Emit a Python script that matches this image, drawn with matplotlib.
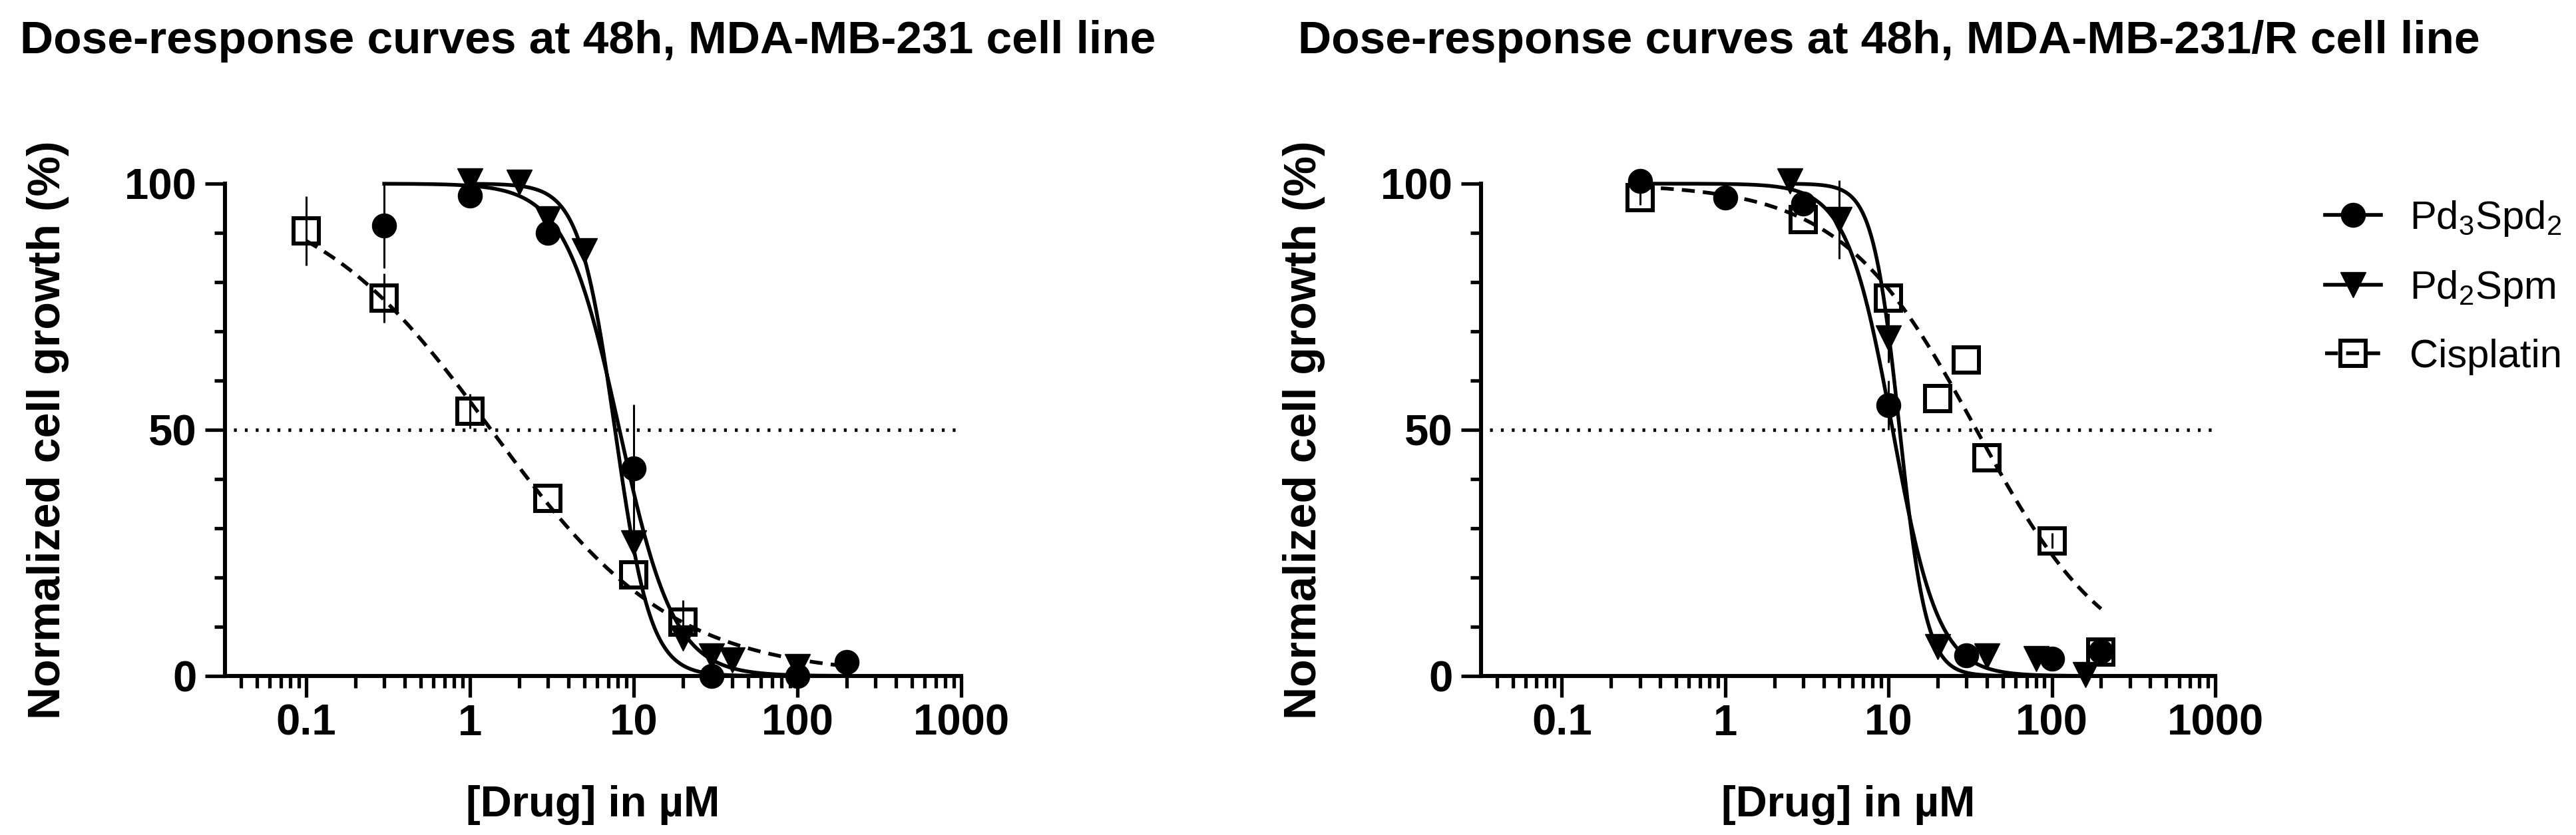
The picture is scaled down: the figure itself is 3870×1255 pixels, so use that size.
import numpy as np
import matplotlib
matplotlib.use('Agg')
import matplotlib.pyplot as plt
import matplotlib.ticker as plticker
from matplotlib.lines import Line2D

plt.rcParams['font.family'] = ['Liberation Sans', 'DejaVu Sans']
plt.rcParams['mathtext.default'] = 'regular'

# ---- MDA-MB-231 (left) ----
wt_pd3_dose = [0.3, 1, 3, 10, 30, 100, 200]
wt_pd3_resp = [91.5, 97.6, 90.0, 42.2, 0.0, 0.0, 2.8]
wt_pd3_err = [8.7, 0, 0, 13, 0, 0, 0]
wt_pd2_dose = [1, 2, 3, 5, 10, 20, 30, 40, 100]
wt_pd2_resp = [100.5, 100.3, 92.9, 86.3, 27.0, 7.7, 4.1, 3.2, 1.9]
wt_pd2_err = [0, 0, 0, 0, 0, 0, 0, 0, 0]
wt_cis_dose = [0.1, 0.3, 1, 3, 10, 20]
wt_cis_resp = [90.4, 76.7, 53.8, 36.1, 20.6, 10.9]
wt_cis_err = [7, 5, 3.5, 0, 0, 4.5]

# ---- MDA-MB-231/R (right) ----
r_pd3_dose = [0.3, 1, 3, 10, 30, 100, 200]
r_pd3_resp = [100.5, 97.2, 95.9, 55.0, 4.2, 3.5, 5.0]
r_pd3_err = [0, 2.5, 0, 5, 0, 0, 0]
r_pd2_dose = [2.5, 5, 10, 20, 40, 80, 160]
r_pd2_resp = [100.5, 92.7, 68.7, 6.0, 4.0, 3.5, 0.3]
r_pd2_err = [0, 8, 5, 0, 0, 0, 0]
r_cis_dose = [0.3, 3, 10, 20, 30, 40, 100, 200]
r_cis_resp = [97.2, 92.7, 76.7, 56.4, 64.2, 44.3, 27.5, 4.8]
r_cis_err = [1.5, 0, 0, 0, 0, 0, 1.5, 0]

# fitted curves (4PL, top 100 / bottom 0): IC50, Hill slope, curve range
wt_pd3_fit = [8.2, 2.6, 0.3, 200]
wt_pd2_fit = [7.7, 4.0, 1, 100]
wt_cis_fit = [1.35, 0.78, 0.1, 200]
r_pd3_fit = [10.6, 3.1, 0.3, 200]
r_pd2_fit = [11.7, 5.3, 2.5, 160]
r_cis_fit = [34.5, 1.05, 0.3, 200]

labels = ['Pd$_3$Spd$_2$', 'Pd$_2$Spm', 'Cisplatin']
titles = ['Dose-response curves at 48h, MDA-MB-231 cell line',
          'Dose-response curves at 48h, MDA-MB-231/R cell line']

DASH = (0, (3.5, 2.2))
styles = [dict(marker='o', ms=26, mfc='k', mec='k', mew=1, ls='-'),
          dict(marker='v', ms=27, mfc='k', mec='k', mew=1, ls='-'),
          dict(marker='s', ms=27, mfc='none', mec='k', mew=4.3, ls=DASH)]


def hill(x, ic50, h):
    return 100.0 / (1.0 + (x / ic50) ** h)


W, H = 3870, 1255
fig = plt.figure(figsize=(W / 100, H / 100), dpi=100)
ax1 = fig.add_axes([338 / W, 239 / H, 1106 / W, 740 / H])
ax2 = fig.add_axes([2225 / W, 239 / H, 1103 / W, 740 / H])

panels = [
    (ax1, [(wt_pd3_dose, wt_pd3_resp, wt_pd3_err, wt_pd3_fit),
           (wt_pd2_dose, wt_pd2_resp, wt_pd2_err, wt_pd2_fit),
           (wt_cis_dose, wt_cis_resp, wt_cis_err, wt_cis_fit)]),
    (ax2, [(r_pd3_dose, r_pd3_resp, r_pd3_err, r_pd3_fit),
           (r_pd2_dose, r_pd2_resp, r_pd2_err, r_pd2_fit),
           (r_cis_dose, r_cis_resp, r_cis_err, r_cis_fit)]),
]

for ax, series in panels:
    ax.set_xscale('log')
    ax.set_xlim(0.032, 1000)
    ax.set_ylim(0, 100)
    ax.axhline(50, xmin=0.012, xmax=1, color='k', lw=3.8, ls=(0, (0.8, 2.3)), zorder=1)
    for (dose, resp, err, fit), st in zip(series, styles):
        ic50, h, x0, x1 = fit
        xs = np.logspace(np.log10(x0), np.log10(x1), 400)
        ax.plot(xs, hill(xs, ic50, h), color='k', lw=4, ls=st['ls'],
                clip_on=False, zorder=3)
        ax.errorbar(dose, resp, yerr=err, fmt='none', ecolor='k',
                    elinewidth=2.2, capsize=0, clip_on=False, zorder=4)
        ax.plot(dose, resp, ls='none', marker=st['marker'], ms=st['ms'],
                mfc=st['mfc'], mec=st['mec'], mew=st['mew'],
                clip_on=False, zorder=5)

    for s in ['top', 'right']:
        ax.spines[s].set_visible(False)
    for s in ['left', 'bottom']:
        ax.spines[s].set_linewidth(4.4)

    ax.xaxis.set_major_locator(plticker.LogLocator(base=10, numticks=10))
    ax.xaxis.set_minor_locator(plticker.LogLocator(base=10, subs=np.arange(2, 10), numticks=10))
    ax.xaxis.set_major_formatter(plticker.FuncFormatter(lambda v, p: '%g' % v))
    ax.xaxis.set_minor_formatter(plticker.NullFormatter())
    ax.set_yticks([0, 50, 100])
    ax.yaxis.set_minor_locator(plticker.MultipleLocator(10))

    ax.tick_params(axis='x', which='major', length=23, width=3.8, pad=7, labelsize=47)
    ax.tick_params(axis='x', which='minor', length=13, width=3.8)
    ax.tick_params(axis='y', which='major', length=21.5, width=3.8, pad=9, labelsize=47)
    ax.tick_params(axis='y', which='minor', length=11.5, width=3.8)
    for t in ax.get_xticklabels() + ax.get_yticklabels():
        t.set_fontweight('bold')

    ax.set_ylabel('Normalized cell growth (%)', fontsize=49, fontweight='bold')
    ax.yaxis.set_label_coords(-0.212, 0.5)
    ax.set_xlabel('[Drug] in µM', fontsize=47, fontweight='bold')
    ax.xaxis.set_label_coords(0.5, -0.221)

fig.text(30 / W, 1 - 80 / H, titles[0], fontsize=50, fontweight='bold', va='baseline')
fig.text(1950 / W, 1 - 80 / H, titles[1], fontsize=50, fontweight='bold', va='baseline')

handles = [Line2D([], [], color='k', lw=4, ls=st['ls'], marker=st['marker'],
                  ms=st['ms'], mfc=st['mfc'], mec=st['mec'], mew=st['mew'])
           for st in styles]
fig.legend(handles, labels, loc='upper left', bbox_to_anchor=(3493 / W, 1 - 299 / H),
           frameon=False, fontsize=43, handlelength=1.4, handletextpad=0.72,
           labelspacing=0.77, borderpad=0, borderaxespad=0)

fig.savefig('out.png', dpi=100)
